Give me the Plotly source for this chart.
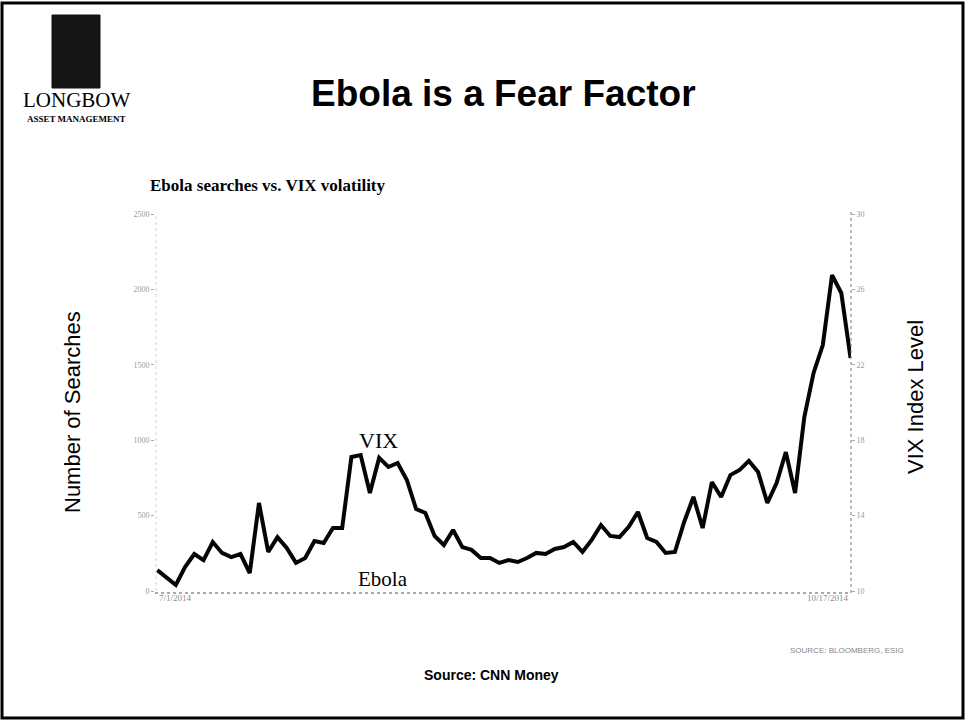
import plotly.graph_objects as go

# ---- data ----
vix = [11.11, 10.74, 10.32, 11.27, 11.96, 11.64, 12.60, 12.02, 11.80, 11.96,
       10.95, 14.67, 12.07, 12.86, 12.28, 11.49, 11.75, 12.65, 12.55, 13.34,
       13.34, 17.11, 17.21, 15.20, 17.06, 16.58, 16.79, 15.89, 14.35, 14.14,
       12.92, 12.44, 13.24, 12.33, 12.18, 11.75, 11.75, 11.49, 11.64, 11.54,
       11.75, 12.02, 11.96, 12.23, 12.33, 12.60, 12.07, 12.71, 13.50, 12.92,
       12.86, 13.40, 14.19, 12.81, 12.60, 12.02, 12.07, 13.66, 14.99, 13.34,
       15.78, 14.99, 16.15, 16.42, 16.90, 16.31, 14.67, 15.73, 17.37, 15.20,
       19.23, 21.57, 23.05, 26.76, 25.81, 22.36]
x_idx = list(range(len(vix)))
date_labels = ["7/1/2014", "10/17/2014"]
vix_ticks = [10, 14, 18, 22, 26, 30]
search_ticks = [0, 500, 1000, 1500, 2000, 2500]

W, H = 966, 723
L, R, T, B = 155, 851, 214, 591  # plot area in pixels


def px(x):
    return (x - L) / (R - L)


def py(y):
    return (B - y) / (B - T)


fig = go.Figure()
# empty searches trace so the left (searches) axis is created
fig.add_trace(go.Scatter(x=[], y=[], mode="lines", yaxis="y",
                         hoverinfo="skip", showlegend=False))
fig.add_trace(go.Scatter(x=x_idx, y=vix, mode="lines",
                         line=dict(color="#050505", width=4),
                         yaxis="y2", hoverinfo="skip", showlegend=False))

tickfont = dict(family="Liberation Serif", size=8, color="#9a9a9a")
fig.update_layout(
    width=W, height=H,
    margin=dict(l=L, r=W - R, t=T, b=H - B),
    paper_bgcolor="white", plot_bgcolor="white",
    showlegend=False,
    xaxis=dict(range=[-0.25, len(vix) - 0.95], showgrid=False, zeroline=False,
               showline=False, showticklabels=False, ticks=""),
    yaxis=dict(range=[search_ticks[0], search_ticks[-1]], side="left",
               tickvals=search_ticks, showgrid=False, zeroline=False,
               showline=False, ticks="outside", ticklen=3, tickcolor="#aaaaaa",
               tickfont=tickfont, visible=True),
    yaxis2=dict(range=[vix_ticks[0], vix_ticks[-1]], side="right", overlaying="y",
                anchor="x", tickvals=vix_ticks, showgrid=False, zeroline=False,
                showline=False, ticks="outside", ticklen=3, tickcolor="#aaaaaa",
                tickfont=tickfont),
)

shapes = []
# outer frame
shapes.append(dict(type="rect", xref="paper", yref="paper",
                   x0=px(2), x1=px(963), y0=py(718), y1=py(3),
                   line=dict(color="#000000", width=3), fillcolor="rgba(0,0,0,0)"))
# logo block
shapes.append(dict(type="rect", xref="paper", yref="paper",
                   x0=px(52), x1=px(100), y0=py(88), y1=py(15),
                   line=dict(color="#111111", width=1), fillcolor="#151515"))
# dotted axis lines
shapes.append(dict(type="line", xref="paper", yref="paper",
                   x0=0, x1=1, y0=py(593), y1=py(593),
                   line=dict(color="#555555", width=1, dash="dot")))
shapes.append(dict(type="line", xref="paper", yref="paper",
                   x0=1, x1=1, y0=py(593), y1=py(212),
                   line=dict(color="#777777", width=1, dash="dot")))
shapes.append(dict(type="line", xref="paper", yref="paper",
                   x0=px(156), x1=px(156), y0=py(591), y1=py(214),
                   line=dict(color="#d0d0d0", width=1, dash="dot")))
fig.update_layout(shapes=shapes)

ann = []


def text(x, y, s, size, family="Liberation Sans", color="#000000",
         xanchor="center", yanchor="middle", angle=0):
    ann.append(dict(x=px(x), y=py(y), xref="paper", yref="paper", text=s,
                    showarrow=False, xanchor=xanchor, yanchor=yanchor,
                    textangle=angle, font=dict(family=family, size=size, color=color)))


text(504, 93, "<b>Ebola is a Fear Factor</b>", 37)
text(148, 185, "<b>Ebola searches vs. VIX volatility</b>", 17, family="Liberation Serif",
     xanchor="left")
text(72, 412, "Number of Searches", 22, angle=-90)
text(915, 397, "VIX Index Level", 22, angle=-90)
text(378, 440, "VIX", 22, family="Liberation Serif")
text(383, 579, "Ebola", 21, family="Liberation Serif")
text(76, 100, "LONGBOW", 21, family="Liberation Serif")
text(76, 119, "<b>ASSET MANAGEMENT</b>", 9, family="Liberation Serif")
text(491, 675, "<b>Source: CNN Money</b>", 14)
text(906, 650, "SOURCE: BLOOMBERG, ESIG", 8, family="Liberation Sans",
     color="#888888", xanchor="right")
fig.update_layout(annotations=ann)

# x tick labels (first and last date)
fig.add_annotation(x=x_idx[0], y=0, xref="x", yref="paper", yshift=-14,
                   text=date_labels[0], showarrow=False, xanchor="left",
                   font=dict(family="Liberation Serif", size=9, color="#8a8a8a"))
fig.add_annotation(x=x_idx[-1], y=0, xref="x", yref="paper", yshift=-14,
                   text=date_labels[1], showarrow=False, xanchor="right",
                   font=dict(family="Liberation Serif", size=9, color="#8a8a8a"))

fig.write_html("out.html")
